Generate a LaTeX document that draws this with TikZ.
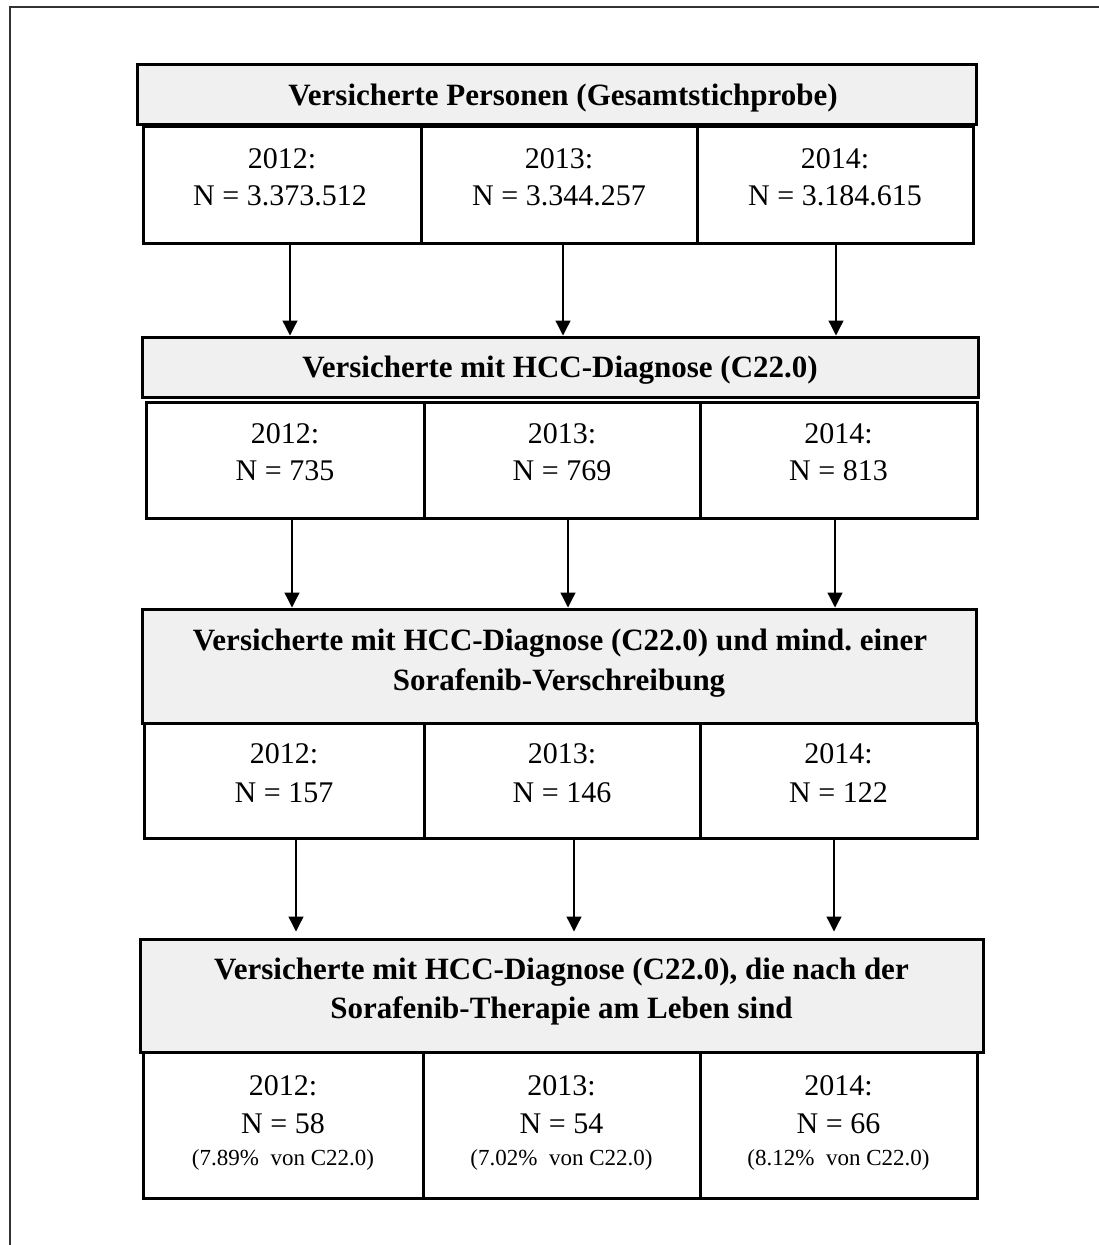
\documentclass[tikz,border=0pt]{standalone}
\usepackage{fontspec}
\setmainfont{Liberation Serif}
\usetikzlibrary{arrows.meta}
\frenchspacing
\definecolor{hdrgray}{RGB}{240,240,240}
\definecolor{framegray}{RGB}{50,50,50}
\tikzset{
  hdrbox/.style={draw=black, line width=3pt, fill=hdrgray, inner sep=0pt},
  rowbox/.style={draw=black, line width=3pt, fill=white, inner sep=0pt},
  hdrtext/.style={anchor=base, inner sep=0pt, font=\fontsize{31}{40}\selectfont\bfseries},
  rowtext/.style={anchor=base, inner sep=0pt, font=\fontsize{30}{38}\selectfont},
  smalltext/.style={anchor=base, inner sep=0pt, font=\fontsize{23}{27}\selectfont},
  arr/.style={line width=1.3pt, -{Triangle[length=15pt,width=15pt]}}
}
\newcommand{\boxat}[6]{% style, name, x1, y1, x2, y2
  \node[#1, minimum width={#5-#3}, minimum height={#6-#4}] (#2) at ({(#3+#5)/2},{(#4+#6)/2}) {};}
\begin{document}
\begin{tikzpicture}[x=1pt, y=-1pt]
\useasboundingbox (0,0) rectangle (1099,1245);
% outer frame (cropped)
\draw[framegray, line width=1.5pt] (10,1250) -- (10,7) -- (1105,7);

% ---------- Level 1 ----------
\boxat{hdrbox}{h1}{137}{64}{976}{124}
\boxat{rowbox}{r1a}{143}{126}{421}{243}
\boxat{rowbox}{r1b}{421}{126}{697}{243}
\boxat{rowbox}{r1c}{697}{126}{973}{243}
\node[hdrtext] (h1t) at (563,105) {Versicherte Personen (Gesamtstichprobe)};
\node[rowtext] (r1a1) at (282,168) {2012:};
\node[rowtext] (r1a2) at (280,205) {N = 3.373.512};
\node[rowtext] (r1b1) at (559,168) {2013:};
\node[rowtext] (r1b2) at (559,205) {N = 3.344.257};
\node[rowtext] (r1c1) at (835,168) {2014:};
\node[rowtext] (r1c2) at (835,205) {N = 3.184.615};

% ---------- Level 2 ----------
\boxat{hdrbox}{h2}{142}{337}{978}{397}
\boxat{rowbox}{r2a}{146}{402}{424}{518}
\boxat{rowbox}{r2b}{424}{402}{700}{518}
\boxat{rowbox}{r2c}{700}{402}{977}{518}
\node[hdrtext] (h2t) at (560,377) {Versicherte mit HCC-Diagnose (C22.0)};
\node[rowtext] (r2a1) at (285,443) {2012:};
\node[rowtext] (r2a2) at (285,480) {N = 735};
\node[rowtext] (r2b1) at (562,443) {2013:};
\node[rowtext] (r2b2) at (562,480) {N = 769};
\node[rowtext] (r2c1) at (838.5,443) {2014:};
\node[rowtext] (r2c2) at (838.5,480) {N = 813};

% ---------- Level 3 ----------
\boxat{hdrbox}{h3}{142}{609}{976}{723}
\boxat{rowbox}{r3a}{144}{723}{424}{838}
\boxat{rowbox}{r3b}{424}{723}{700}{838}
\boxat{rowbox}{r3c}{700}{723}{977}{838}
\node[hdrtext] (h3t1) at (560,650) {Versicherte mit HCC-Diagnose (C22.0) und mind. einer};
\node[hdrtext] (h3t2) at (559,690) {Sorafenib-Verschreibung};
\node[rowtext] (r3a1) at (284,763) {2012:};
\node[rowtext] (r3a2) at (284,802) {N = 157};
\node[rowtext] (r3b1) at (562,763) {2013:};
\node[rowtext] (r3b2) at (562,802) {N = 146};
\node[rowtext] (r3c1) at (838.5,763) {2014:};
\node[rowtext] (r3c2) at (838.5,802) {N = 122};

% ---------- Level 4 ----------
\boxat{hdrbox}{h4}{140}{939}{983}{1052}
\boxat{rowbox}{r4a}{143}{1052}{423}{1198}
\boxat{rowbox}{r4b}{423}{1052}{700}{1198}
\boxat{rowbox}{r4c}{700}{1052}{977}{1198}
\node[hdrtext] (h4t1) at (561.5,979) {Versicherte mit HCC-Diagnose (C22.0), die nach der};
\node[hdrtext] (h4t2) at (561.5,1018) {Sorafenib-Therapie am Leben sind};
\node[rowtext] (r4a1) at (283,1095) {2012:};
\node[rowtext] (r4a2) at (283,1133) {N = 58};
\node[smalltext] (r4a3) at (283,1165) {(7.89\%\ \ von C22.0)};
\node[rowtext] (r4b1) at (561.5,1095) {2013:};
\node[rowtext] (r4b2) at (561.5,1133) {N = 54};
\node[smalltext] (r4b3) at (561.5,1165) {(7.02\%\ \ von C22.0)};
\node[rowtext] (r4c1) at (838.5,1095) {2014:};
\node[rowtext] (r4c2) at (838.5,1133) {N = 66};
\node[smalltext] (r4c3) at (838.5,1165) {(8.12\%\ \ von C22.0)};

% ---------- Arrows ----------
\draw[arr] (r1a.south -| 290,0) -- (h2.north -| 290,0);
\draw[arr] (r1b.south -| 563,0) -- (h2.north -| 563,0);
\draw[arr] (r1c.south -| 836,0) -- (h2.north -| 836,0);
\draw[arr] (r2a.south -| 292,0) -- (h3.north -| 292,0);
\draw[arr] (r2b.south -| 568,0) -- (h3.north -| 568,0);
\draw[arr] (r2c.south -| 835,0) -- (h3.north -| 835,0);
\draw[arr, shorten >=6pt] (r3a.south -| 296,0) -- (h4.north -| 296,0);
\draw[arr, shorten >=6pt] (r3b.south -| 574,0) -- (h4.north -| 574,0);
\draw[arr, shorten >=6pt] (r3c.south -| 834,0) -- (h4.north -| 834,0);
\end{tikzpicture}
\end{document}
